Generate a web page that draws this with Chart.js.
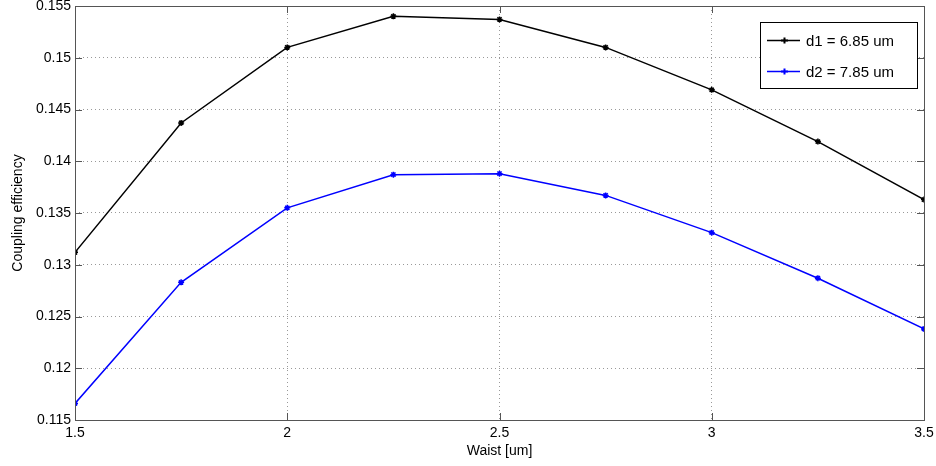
<!DOCTYPE html>
<html>
<head>
<meta charset="utf-8">
<script src="https://cdn.jsdelivr.net/npm/chart.js@4/dist/chart.umd.min.js"></script>
<style>
  html, body { margin: 0; padding: 0; background: #fff; }
  #wrap { width: 936px; height: 466px; }
</style>
</head>
<body>
<div id="wrap"><canvas id="c" width="936" height="466"></canvas></div>
<script>
const waist = [1.5, 1.75, 2.0, 2.25, 2.5, 2.75, 3.0, 3.25, 3.5];
const d1 = [0.1312, 0.1437, 0.1510, 0.1540, 0.1537, 0.1510, 0.1469, 0.1419, 0.1363];
const d2 = [0.1166, 0.1283, 0.1355, 0.1387, 0.1388, 0.1367, 0.1331, 0.1287, 0.1238];
const seriesNames = ['d1 = 6.85 um', 'd2 = 7.85 um'];
const seriesColors = ['#000000', '#0000ff'];

const FONT = '"Liberation Sans", Arial, sans-serif';

// рамка, внутренние засечки и легенда в стиле MATLAB
const boxPlugin = {
  id: 'box',
  afterDraw(chart) {
    const { ctx, chartArea: a, scales } = chart;
    ctx.save();
    ctx.strokeStyle = '#555';
    ctx.lineWidth = 1;
    ctx.beginPath();
    scales.x.ticks.forEach(t => {
      const px = Math.round(scales.x.getPixelForValue(t.value)) + 0.5;
      ctx.moveTo(px, a.bottom); ctx.lineTo(px, a.bottom - 7);
      ctx.moveTo(px, a.top); ctx.lineTo(px, a.top + 7);
    });
    scales.y.ticks.forEach(t => {
      const py = Math.round(scales.y.getPixelForValue(t.value)) + 0.5;
      ctx.moveTo(a.left, py); ctx.lineTo(a.left + 7, py);
      ctx.moveTo(a.right, py); ctx.lineTo(a.right - 7, py);
    });
    ctx.stroke();
    ctx.strokeRect(Math.round(a.left) + 0.5, Math.round(a.top) + 0.5,
      Math.round(a.right - a.left), Math.round(a.bottom - a.top));

    // легенда
    const lx = 760, ly = 22, lw = 157, lh = 66;
    ctx.fillStyle = '#fff';
    ctx.fillRect(lx, ly, lw, lh);
    ctx.strokeStyle = '#000';
    ctx.strokeRect(lx + 0.5, ly + 0.5, lw, lh);
    ctx.font = '15px ' + FONT;
    ctx.textBaseline = 'middle';
    seriesNames.forEach((name, i) => {
      const y = ly + 18 + i * 31 + 0.5;
      ctx.strokeStyle = seriesColors[i];
      ctx.lineWidth = 1.3;
      ctx.beginPath();
      ctx.moveTo(lx + 7, y); ctx.lineTo(lx + 40, y);
      ctx.stroke();
      ctx.beginPath();
      ctx.moveTo(lx + 24.5, y - 3); ctx.lineTo(lx + 24.5, y + 3);
      ctx.moveTo(lx + 21, y); ctx.lineTo(lx + 28, y);
      ctx.lineWidth = 2;
      ctx.stroke();
      ctx.fillStyle = '#000';
      ctx.fillText(name, lx + 46, y + 1);
    });
    ctx.restore();
  }
};

new Chart(document.getElementById('c').getContext('2d'), {
  type: 'line',
  data: {
    datasets: [
      { label: seriesNames[0], data: waist.map((x, i) => ({ x, y: d1[i] })),
        borderColor: seriesColors[0], backgroundColor: seriesColors[0] },
      { label: seriesNames[1], data: waist.map((x, i) => ({ x, y: d2[i] })),
        borderColor: seriesColors[1], backgroundColor: seriesColors[1] }
    ].map(ds => Object.assign(ds, {
      borderWidth: 1.5, pointStyle: 'star', pointRadius: 3, pointBorderWidth: 1.5,
      tension: 0, fill: false
    }))
  },
  options: {
    responsive: false,
    animation: false,
    layout: { padding: { top: 6, right: 12, left: 0, bottom: 0 } },
    plugins: { legend: { display: false }, tooltip: { enabled: false } },
    scales: {
      x: {
        type: 'linear', min: 1.5, max: 3.5,
        afterFit(s) { s.height = 46; s.paddingRight = 0; s.paddingLeft = 0; },
        ticks: { stepSize: 0.5, color: '#000', font: { family: FONT, size: 14 }, padding: 5,
          maxRotation: 0, callback: v => String(+v.toFixed(2)) },
        grid: { color: '#999', lineWidth: 1, drawTicks: false },
        border: { display: false, dash: [1, 3] },
        title: { display: true, text: 'Waist [um]', color: '#000',
          font: { family: FONT, size: 14 }, padding: { top: 1, bottom: 6 } }
      },
      y: {
        min: 0.115, max: 0.155,
        afterFit(s) { s.width = 75; s.paddingTop = 0; s.paddingBottom = 0; },
        ticks: { stepSize: 0.005, color: '#000', font: { family: FONT, size: 14 }, padding: 4,
          callback: v => String(+v.toFixed(3)) },
        grid: { color: '#999', lineWidth: 1, drawTicks: false },
        border: { display: false, dash: [1, 3] },
        title: { display: true, text: 'Coupling efficiency', color: '#000',
          font: { family: FONT, size: 14 }, padding: { top: 10, bottom: 2 } }
      }
    }
  },
  plugins: [boxPlugin]
});
</script>
</body>
</html>
